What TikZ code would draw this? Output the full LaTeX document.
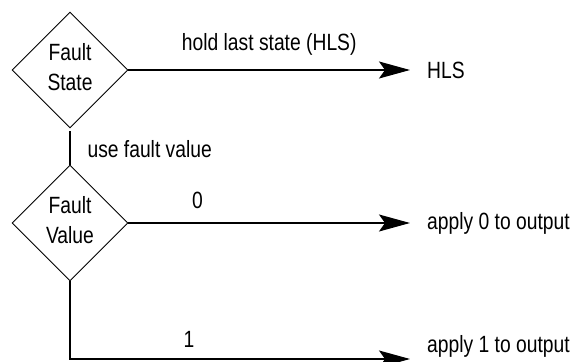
\documentclass[tikz,border=0pt]{standalone}
\usepackage{fontspec}
\setmainfont{Liberation Sans}[FakeStretch=0.82]
\usepackage{tikz}
\usetikzlibrary{positioning, shapes.geometric, arrows.meta}

\begin{document}
\begin{tikzpicture}[x=1pt,y=-1pt,
   font=\fontsize{23.5}{30}\selectfont,
   decision/.style={draw, diamond, aspect=1, minimum size=116pt, inner sep=0pt, align=center, text depth=7pt, line width=0.9pt},
   flow/.style={line width=1.1pt, -{Stealth[length=31pt,width=17pt,inset=6pt]}},
   lbl/.style={inner sep=0pt}]
\useasboundingbox (0,0) rectangle (574,362);
\node[decision] (state) at (70,70) {Fault\\State};
\node[decision] (value) at (70,223) {Fault\\Value};
\coordinate (tip1) at (410,70);
\coordinate (tip0) at (410,223);
\coordinate (bend) at (70,359);
\coordinate (tip2) at (410,359);
\node[lbl, right=17pt of tip1] (hls) {HLS};
\node[lbl, right=17pt of tip0] (out0) {apply 0 to output};
\node[lbl, anchor=west] (out1) at (427,346) {apply 1 to output};
\draw[flow] (state) -- (tip1) node[lbl, midway, above=14pt] {hold last state (HLS)};
\draw[line width=1.1pt, shorten <=3pt] (state) -- (value) node[lbl, midway, right=17pt, yshift=-3pt] {use fault value};
\draw[flow] (value) -- (tip0) node[lbl, pos=0.245, above=14pt] {0};
\draw[flow] (value) -- (bend) -- (tip2) node[lbl, pos=0.35, above=11pt] {1};
\end{tikzpicture}
\end{document}
